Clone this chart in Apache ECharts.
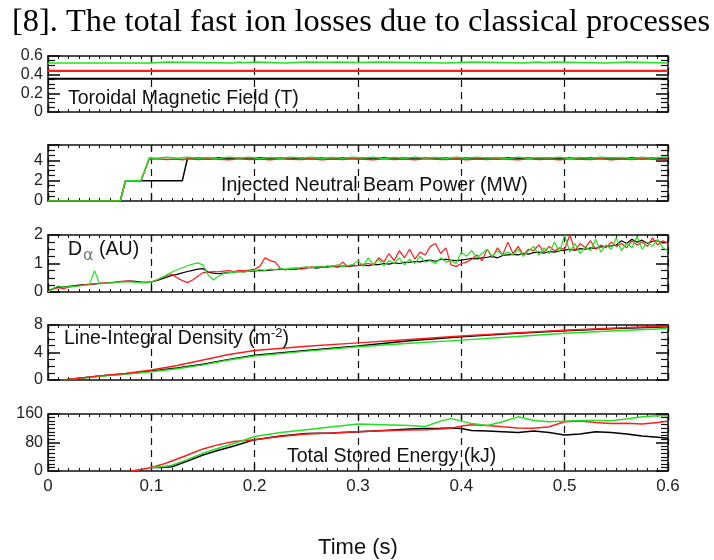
<!DOCTYPE html>
<html><head><meta charset="utf-8">
<script src="https://cdn.jsdelivr.net/npm/echarts@6/dist/echarts.min.js"></script>
<style>html,body{margin:0;padding:0;background:#fff}#c{width:714px;height:560px}</style>
</head><body><div id="c"></div>
<script>
// ---------- DATA ----------
const xTickLabels = [0, 0.1, 0.2, 0.3, 0.4, 0.5, 0.6];

// Panel 1: Toroidal Magnetic Field (T)
const btGreenT = [0, 0.1, 0.115, 0.18, 0.185, 0.19, 0.2, 0.23, 0.25, 0.27, 0.28, 0.3, 0.32, 0.385, 0.41, 0.46, 0.475, 0.48, 0.49, 0.54, 0.56, 0.6];
const btGreenV = [0.525, 0.535, 0.525, 0.535, 0.528, 0.535, 0.525, 0.535, 0.532, 0.535, 0.53, 0.535, 0.525, 0.535, 0.525, 0.535, 0.528, 0.535, 0.525, 0.535, 0.525, 0.525];
const btT = [0, 0.6];
const btRedV = [0.44, 0.44];
const btBlackV = [0.355, 0.355];

// Panel 2: Injected Neutral Beam Power (MW)
const nbT = [0,0.07,0.075,0.09,0.098,0.105,0.115,0.125,0.13,0.135,
  0.145,0.155,0.165,0.175,0.185,0.195,0.205,0.215,0.225,0.235,
  0.245,0.255,0.265,0.275,0.285,0.295,0.305,0.315,0.325,0.335,
  0.345,0.355,0.365,0.375,0.385,0.395,0.405,0.415,0.425,0.435,
  0.445,0.455,0.465,0.475,0.485,0.495,0.505,0.515,0.525,0.535,
  0.545,0.555,0.565,0.575,0.585,0.595,0.6];
const nbBlack = [0,0,2,2,2,2,2,2,2,4.2,
  4.22,4.12,4.25,4.15,4.22,4.12,4.25,4.18,4.22,4.12,
  4.25,4.15,4.22,4.12,4.25,4.18,4.22,4.12,4.25,4.15,
  4.22,4.12,4.25,4.18,4.22,4.12,4.25,4.15,4.22,4.12,
  4.25,4.18,4.22,4.12,4.25,4.15,4.22,4.12,4.25,4.18,
  4.22,4.12,4.25,4.15,4.22,4.12,4.15];
const nbRed = [0,0,2,2,4.1,4.15,4.08,4.12,4.05,4.15,
  4.08,4.15,4.1,4.05,4.15,4.08,4.12,4.05,4.15,4.1,
  4.08,4.15,4.05,4.12,4.08,4.15,4.1,4.05,4.15,4.08,
  4.12,4.05,4.15,4.1,4.08,4.15,4.05,4.12,4.08,4.15,
  4.1,4.05,4.15,4.08,4.12,4.05,4.15,4.1,4.08,4.15,
  4.05,4.12,4.08,4.15,4.1,4.05,4.12];
const nbGreen = [0,0,2,2,4.25,4.2,4.3,4.2,4.25,4.3,
  4.2,4.28,4.18,4.3,4.22,4.3,4.18,4.28,4.2,4.3,
  4.22,4.3,4.18,4.28,4.2,4.3,4.22,4.3,4.18,4.28,
  4.2,4.3,4.22,4.28,4.18,4.3,4.2,4.3,4.22,4.28,
  4.18,4.3,4.2,4.28,4.22,4.3,4.18,4.28,4.2,4.3,
  4.22,4.28,4.18,4.3,4.2,4.3,4.32];

// Panel 3: D-alpha (AU)
const daT = [0,0.005,0.01,0.015,0.02,0.025,0.03,0.035,0.04,0.045,
  0.05,0.055,0.06,0.065,0.07,0.075,0.08,0.085,0.09,0.095,
  0.1,0.105,0.11,0.115,0.12,0.125,0.13,0.135,0.14,0.145,
  0.15,0.155,0.16,0.165,0.17,0.175,0.18,0.185,0.19,0.195,
  0.2,0.205,0.21,0.215,0.22,0.225,0.23,0.235,0.24,0.245,
  0.25,0.255,0.26,0.265,0.27,0.275,0.28,0.285,0.29,0.295,
  0.3,0.305,0.31,0.315,0.32,0.325,0.33,0.335,0.34,0.345,
  0.35,0.355,0.36,0.365,0.37,0.375,0.38,0.385,0.39,0.395,
  0.4,0.405,0.41,0.415,0.42,0.425,0.43,0.435,0.44,0.445,
  0.45,0.455,0.46,0.465,0.47,0.475,0.48,0.485,0.49,0.495,
  0.5,0.505,0.51,0.515,0.52,0.525,0.53,0.535,0.54,0.545,
  0.55,0.555,0.56,0.565,0.57,0.575,0.58,0.585,0.59,0.595,
  0.6];
const daBlack = [0.03,0.12,0.18,0.17,0.2,0.22,0.24,0.26,0.27,0.28,
  0.3,0.31,0.33,0.34,0.36,0.37,0.38,0.37,0.35,0.34,
  0.35,0.4,0.46,0.52,0.58,0.62,0.67,0.72,0.76,0.8,
  0.82,0.7,0.66,0.64,0.66,0.68,0.7,0.72,0.71,0.73,
  0.74,0.76,0.75,0.77,0.78,0.8,0.78,0.81,0.8,0.83,
  0.85,0.86,0.84,0.87,0.88,0.9,0.88,0.91,0.9,0.92,
  0.93,0.95,0.92,0.97,0.96,1.0,0.98,1.02,1.0,1.04,
  1.05,1.07,1.06,1.1,1.12,1.08,1.14,1.15,1.12,1.1,
  1.12,1.15,1.18,1.16,1.2,1.22,1.25,1.2,1.28,1.3,
  1.32,1.3,1.35,1.33,1.38,1.4,1.36,1.42,1.4,1.45,
  1.47,1.5,1.46,1.52,1.5,1.55,1.53,1.58,1.6,1.62,
  1.65,1.8,1.7,1.85,1.75,1.82,1.7,1.78,1.8,1.72,
  1.75];
const daRed = [0.02,0.1,0.15,0.12,0.17,0.2,0.22,0.25,0.27,0.29,
  0.3,0.32,0.33,0.35,0.37,0.38,0.38,0.36,0.35,0.34,
  0.36,0.42,0.5,0.58,0.62,0.5,0.4,0.33,0.42,0.55,
  0.68,0.7,0.72,0.71,0.73,0.75,0.72,0.76,0.74,0.77,
  0.8,0.9,1.2,1.1,1.05,0.82,0.78,0.8,0.85,0.8,
  0.84,0.88,0.86,0.9,0.85,0.92,0.88,1.05,0.9,0.95,
  0.92,0.98,1.0,0.95,1.2,1.05,1.35,1.1,1.45,1.2,
  1.5,1.15,1.4,1.3,1.6,1.7,1.35,1.55,0.95,0.9,
  1.0,1.05,1.15,1.3,1.1,1.5,1.2,1.55,1.3,1.75,
  1.35,1.6,1.3,1.5,1.45,1.65,1.4,1.6,1.45,1.55,
  1.5,2.0,1.45,1.7,1.55,1.8,1.5,1.65,1.55,1.75,
  1.6,1.7,1.55,1.8,1.65,1.75,1.6,1.9,1.65,1.8,
  1.7];
const daGreen = [0.0,0.12,0.22,0.16,0.18,0.2,0.21,0.23,0.25,0.75,
  0.28,0.3,0.32,0.33,0.35,0.36,0.35,0.34,0.33,0.32,
  0.34,0.42,0.5,0.6,0.7,0.78,0.85,0.92,0.98,1.02,
  0.95,0.6,0.42,0.55,0.65,0.68,0.7,0.72,0.7,0.74,
  0.75,0.78,0.76,0.8,0.79,0.82,0.8,0.84,0.83,0.86,
  0.88,0.85,0.9,0.87,0.92,0.9,0.95,0.88,0.93,0.96,
  1.1,0.9,1.2,0.95,1.15,0.92,1.1,1.0,1.2,0.95,
  1.15,1.0,1.25,1.05,1.1,1.0,1.2,1.05,1.1,1.0,
  1.4,1.25,1.45,1.2,1.35,1.5,1.25,1.45,1.3,1.4,
  1.3,1.5,1.25,1.45,1.6,1.3,1.55,1.35,1.75,1.4,
  2.0,1.4,1.7,1.35,1.6,1.45,1.85,1.4,1.65,1.5,
  1.9,1.45,1.7,1.55,1.95,1.5,1.75,1.6,1.85,1.55,
  1.45];

// Panel 4: Line-Integral Density (m^-2)
const neT = [0.015, 0.05, 0.075, 0.1, 0.125, 0.15, 0.175, 0.2, 0.25, 0.3, 0.35, 0.4, 0.45, 0.5, 0.55, 0.6];
const neRed   = [0, 0.6, 0.95, 1.45, 2.1, 2.9, 3.7, 4.3, 4.9, 5.4, 5.9, 6.4, 6.85, 7.25, 7.55, 7.85];
const neBlack = [0, 0.58, 0.9, 1.3, 1.75, 2.3, 3.0, 3.6, 4.3, 4.95, 5.7, 6.3, 6.75, 7.15, 7.5, 7.75];
const neGreen = [0, 0.55, 0.85, 1.2, 1.65, 2.2, 2.9, 3.5, 4.2, 4.85, 5.35, 5.8, 6.3, 6.8, 7.15, 7.5];

// Panel 5: Total Stored Energy (kJ)
const weT = [0.08,0.09,0.1,0.11,0.12,0.135,0.15,0.165,0.18,0.2,0.225,0.25,0.275,0.3,0.325,0.35,0.365,0.38,0.39,0.4,0.41,0.425,0.44,0.455,0.47,0.485,0.5,0.515,0.53,0.545,0.56,0.575,0.59,0.6];
const weRed   = [0,4,10,18,28,45,62,74,83,88,97,104,107,110,113,115,116,118,120,126,130,128,124,121,120,124,138,140,136,133,134,132,136,140];
const weBlack = [null,null,10,10,12,28,45,58,70,88,98,105,107,110,114,118,119,120,121,119,114,112,110,108,112,108,101,104,110,108,104,98,95,92];
const weGreen = [null,null,10,12,16,32,50,64,77,97,108,116,124,132,130,128,125,140,147,140,133,128,138,152,142,138,140,142,142,141,146,152,155,155];

// ---------- CHART ----------
const C_BLACK = '#000000', C_RED = '#ff1c1c', C_GREEN = '#22e022';
const pairs = (t, v) => t.map((x, i) => [x, v[i]]);

const tops = [56, 145, 235, 325, 414];
const hts  = [56, 56, 57, 55, 57];
const yCfg = [
  {min: 0, max: 0.6, interval: 0.2, minor: 4},
  {min: 0, max: 5.5, interval: 2, minor: 4, hideMax: true},
  {min: 0, max: 2, interval: 1, minor: 4},
  {min: 0, max: 8, interval: 4, minor: 4},
  {min: 0, max: 160, interval: 80, minor: 8}
];
const FR = '#111';
const xAxes = [], yAxes = [], grids = [];
for (let i = 0; i < 5; i++) {
  grids.push({left: 48, right: 46, top: tops[i], height: hts[i]});
  xAxes.push({
    gridIndex: i, type: 'value', min: 0, max: 0.6, interval: 0.1, position: 'bottom',
    axisLine: {show: true, onZero: false, lineStyle: {color: FR, width: 1.5}},
    axisTick: {show: true, inside: true, length: 7, lineStyle: {color: FR, width: 1.3}},
    minorTick: {show: true, splitNumber: 10, length: 3, lineStyle: {color: FR, width: 1}},
    splitLine: {show: true, lineStyle: {color: FR, type: [7, 5], width: 1.2}},
    axisLabel: {show: i === 4, fontSize: 17, color: '#222', margin: 7, fontFamily: 'Liberation Sans'}
  });
  xAxes.push({
    gridIndex: i, type: 'value', min: 0, max: 0.6, interval: 0.1, position: 'top',
    axisLine: {show: true, onZero: false, lineStyle: {color: FR, width: 1.5}},
    axisTick: {show: true, inside: true, length: 6, lineStyle: {color: FR, width: 1.3}},
    minorTick: {show: true, splitNumber: 10, length: 3, lineStyle: {color: FR, width: 1}},
    splitLine: {show: false}, axisLabel: {show: false}
  });
  const c = yCfg[i];
  const yBase = {
    gridIndex: i, type: 'value', min: c.min, max: c.max, interval: c.interval,
    axisLine: {show: true, onZero: false, lineStyle: {color: FR, width: 1.5}},
    axisTick: {show: true, inside: true, length: 12, lineStyle: {color: FR, width: 1.6}},
    minorTick: {show: true, splitNumber: c.minor, length: 7, lineStyle: {color: FR, width: 1.2}},
    splitLine: {show: false}
  };
  yAxes.push(Object.assign({}, yBase, {
    position: 'left',
    axisLabel: {show: true, fontSize: 16, color: '#222', margin: 5, fontFamily: 'Liberation Sans',
      showMaxLabel: !c.hideMax}
  }));
  yAxes.push(Object.assign({}, yBase, {position: 'right', axisLabel: {show: false}}));
}

function line(i, data, color, extra) {
  return Object.assign({
    type: 'line', xAxisIndex: 2 * i, yAxisIndex: 2 * i, data: data,
    showSymbol: false, symbol: 'none', silent: true,
    lineStyle: {color: color, width: 1.5}, itemStyle: {color: color}, z: 3
  }, extra || {});
}

const series = [
  line(0, pairs(btT, btBlackV), C_BLACK, {lineStyle: {color: C_BLACK, width: 2}}),
  line(0, pairs(btT, btRedV), C_RED, {lineStyle: {color: C_RED, width: 2.2}}),
  line(0, pairs(btGreenT, btGreenV), C_GREEN, {step: 'end'}),
  line(1, pairs(nbT, nbBlack), C_BLACK),
  line(1, pairs(nbT, nbRed), C_RED),
  line(1, pairs(nbT, nbGreen), C_GREEN),
  line(2, pairs(daT, daBlack), C_BLACK, {lineStyle: {color: C_BLACK, width: 1.2}}),
  line(2, pairs(daT, daRed), C_RED, {lineStyle: {color: C_RED, width: 1.2}}),
  line(2, pairs(daT, daGreen), C_GREEN, {lineStyle: {color: C_GREEN, width: 1.2}}),
  line(3, pairs(neT, neBlack), C_BLACK),
  line(3, pairs(neT, neGreen), C_GREEN),
  line(3, pairs(neT, neRed), C_RED),
  line(4, pairs(weT, weBlack), C_BLACK),
  line(4, pairs(weT, weRed), C_RED),
  line(4, pairs(weT, weGreen), C_GREEN)
];

const SANS = '"Liberation Sans", Arial, sans-serif';
const lbl = (x, y, text, extra) => Object.assign({
  type: 'text', x: x, y: y, z: 100,
  style: Object.assign({text: text, fill: '#111', font: '19.5px ' + SANS, verticalAlign: 'middle', align: 'left'}, extra || {})
});

const graphic = [
  {type: 'text', x: 12, y: 22.5, z: 100,
   style: {text: '[8]. The total fast ion losses due to classical processes', fill: '#000',
           font: '32.4px "Liberation Serif", "Times New Roman", serif', verticalAlign: 'middle', align: 'left'}},
  lbl(68, 98.5, 'Toroidal Magnetic Field (T)'),
  lbl(221, 185.5, 'Injected Neutral Beam Power (MW)'),
  {type: 'text', x: 68, y: 250, z: 100,
   style: {text: '{d|D}{a|α}{n| (AU)}', verticalAlign: 'middle', align: 'left', fill: '#111',
     rich: {
       d: {fontSize: 19.5, fontFamily: SANS, fill: '#111'},
       a: {fontSize: 16, fontFamily: '"DejaVu Sans"', fill: '#777', padding: [12, 0, 0, 1]},
       n: {fontSize: 19.5, fontFamily: SANS, fill: '#111'}
     }}},
  {type: 'text', x: 64, y: 339, z: 100,
   style: {text: '{n|Line-Integral Density (m}{s|-2}{n|)}', verticalAlign: 'middle', align: 'left', fill: '#111',
     rich: {
       n: {fontSize: 19.5, fontFamily: SANS, fill: '#111'},
       s: {fontSize: 13, fontFamily: SANS, fill: '#111', padding: [0, 0, 11, 0]}
     }}},
  lbl(287, 456.5, 'Total Stored Energy (kJ)'),
  {type: 'text', x: 358, y: 548, z: 100,
   style: {text: 'Time (s)', fill: '#111', font: '22px ' + SANS, verticalAlign: 'middle', align: 'center'}}
];

const chart = echarts.init(document.getElementById('c'), null, {renderer: 'canvas'});
chart.setOption({
  animation: false, backgroundColor: '#ffffff',
  grid: grids, xAxis: xAxes, yAxis: yAxes, series: series, graphic: graphic
});
</script></body></html>
